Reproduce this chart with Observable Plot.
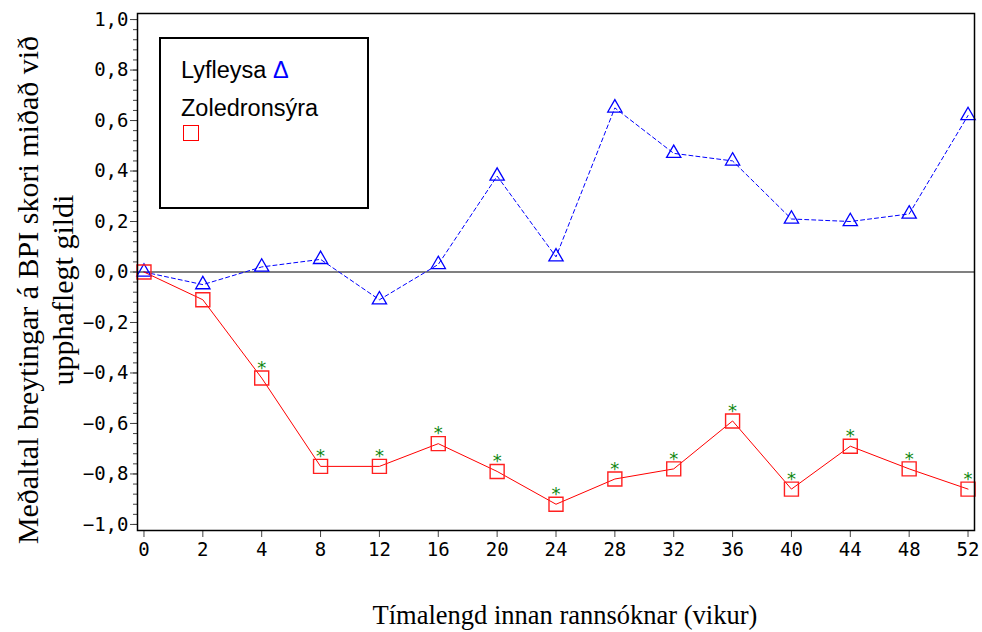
<!DOCTYPE html>
<html>
<head>
<meta charset="utf-8">
<script src="https://cdn.jsdelivr.net/npm/d3@7"></script>
<script src="https://cdn.jsdelivr.net/npm/@observablehq/plot@0.6"></script>
<style>
  html, body { margin: 0; padding: 0; background: #fff; }
  #wrap { position: relative; width: 982px; height: 632px; }
  .ytitle { position: absolute; font-family: "Liberation Serif", serif; font-size: 30px; color: #000;
            white-space: nowrap; transform-origin: center center; text-align: center; line-height: 35px; }
  .xtitle { position: absolute; font-family: "Liberation Serif", serif; font-size: 26.5px; color: #000; white-space: nowrap; }
  .legend { position: absolute; left: 159px; top: 37px; width: 206px; height: 168px; border: 2px solid #000;
            font-family: "Liberation Sans", Arial, sans-serif; font-size: 23.5px; color: #000; }
</style>
</head>
<body>
<div id="wrap"></div>
<script>
const weeks = ["0","2","4","8","12","16","20","24","28","32","36","40","44","48","52"];
const placebo = [0.00,-0.05,0.02,0.05,-0.11,0.03,0.38,0.06,0.65,0.47,0.44,0.21,0.20,0.23,0.62];
const zoledronic = [0.00,-0.11,-0.42,-0.77,-0.77,-0.68,-0.79,-0.92,-0.82,-0.78,-0.59,-0.86,-0.69,-0.78,-0.86];
const significant = [false,false,true,true,true,true,true,true,true,true,true,true,true,true,true];
const yTicks = [-1,-0.8,-0.6,-0.4,-0.2,0,0.2,0.4,0.6,0.8,1];
const yMinorTicks = d3.range(-25, 26).map(i => i * 0.04);
const seriesNames = ["Lyfleysa", "Zoledronsýra"];
const yTitle = ["Meðaltal breytingar á BPI skori miðað við", "upphaflegt gildi"];
const xTitle = "Tímalengd innan rannsóknar (vikur)";

const data = weeks.map((w, i) => ({week: w, placebo: placebo[i], zol: zoledronic[i], sig: significant[i]}));
const fmt = d => (d < 0 ? "\u2212" : "") + Math.abs(d).toFixed(1).replace(".", ",");

const chart = Plot.plot({
  width: 982,
  height: 632,
  marginLeft: 137,
  marginRight: 8,
  marginTop: 13,
  marginBottom: 102,
  style: {background: "#fff"},
  x: {type: "point", domain: weeks, padding: 0.11, round: false},
  y: {domain: [-1.024, 1.024]},
  marks: [
    Plot.ruleY([0], {stroke: "#808080", strokeWidth: 2}),
    Plot.line(data, {x: "week", y: "placebo", stroke: "#0000ff", strokeWidth: 1, strokeDasharray: "4,3"}),
    Plot.line(data, {x: "week", y: "zol", stroke: "#ff0000", strokeWidth: 1}),
    Plot.dot(data, {x: "week", y: "placebo", symbol: "triangle", r: 5.3, stroke: "#0000ff", strokeWidth: 1.3, fill: "none"}),
    Plot.dot(data, {x: "week", y: "zol", symbol: "square", r: 7.9, stroke: "#ff2020", strokeWidth: 1.4, fill: "none"}),
    Plot.text(data.filter(d => d.sig), {x: "week", y: "zol", text: () => "*", dy: -10, fill: "#118811", fontSize: 18, fontFamily: "DejaVu Sans"}),
    Plot.axisY(yMinorTicks, {tickSize: 4, tickFormat: () => "", label: null, stroke: "#444"}),
    Plot.axisY(yTicks, {tickSize: 7, tickPadding: 2, tickFormat: fmt, label: null, fontSize: 19, fontFamily: "DejaVu Sans Mono", stroke: "#444", fill: "#000"}),
    Plot.axisX({tickSize: 7, tickPadding: 5, label: null, fontSize: 19, fontFamily: "DejaVu Sans Mono", stroke: "#444", fill: "#000"}),
    Plot.frame({stroke: "#000", strokeWidth: 1.5})
  ]
});

const wrap = document.getElementById("wrap");
wrap.appendChild(chart);

// Y title (two lines, rotated)
const yt = document.createElement("div");
yt.className = "ytitle";
yt.innerHTML = yTitle.map(s => `<div>${s}</div>`).join("");
wrap.appendChild(yt);
const w = yt.offsetWidth, h = yt.offsetHeight;
yt.style.left = (45 - w / 2) + "px";
yt.style.top = (290 - h / 2) + "px";
yt.style.transform = "rotate(-90deg)";

// X title
const xt = document.createElement("div");
xt.className = "xtitle";
xt.textContent = xTitle;
wrap.appendChild(xt);
xt.style.left = (565 - xt.offsetWidth / 2) + "px";
xt.style.top = "600px";

// Legend
const lg = document.createElement("div");
lg.className = "legend";
lg.innerHTML = `
  <div style="position:absolute;left:20px;top:18px;">${seriesNames[0]} <span style="color:#0000ff">\u0394</span></div>
  <div style="position:absolute;left:20px;top:56px;">${seriesNames[1]}</div>
  <div style="position:absolute;left:22px;top:86px;width:14px;height:14px;border:1.5px solid #ff0000;"></div>`;
wrap.appendChild(lg);
</script>
</body>
</html>
